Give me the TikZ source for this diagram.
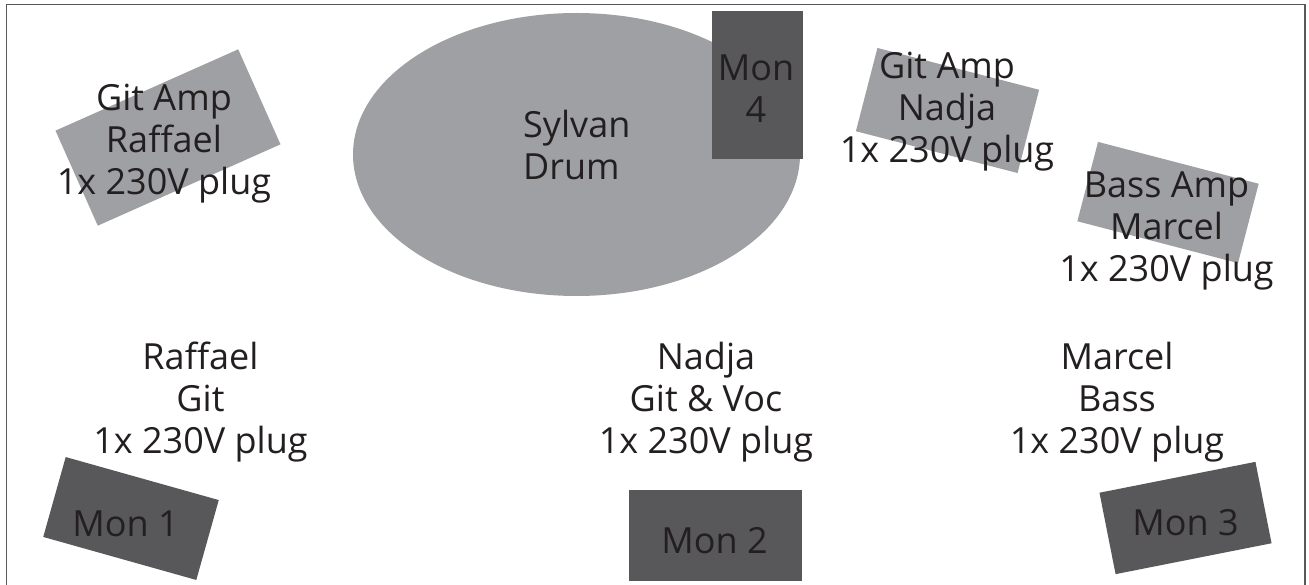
\documentclass[tikz,border=0pt]{standalone}
\usepackage{fontspec}
\setmainfont{Open Sans}
\usetikzlibrary{shapes.geometric}
\definecolor{light}{HTML}{9FA0A3}
\definecolor{dark}{HTML}{58585A}
\definecolor{ink}{HTML}{231F20}
\definecolor{frame}{HTML}{58595B}
\tikzset{
  txt/.style={font=\fontsize{36}{42}\selectfont, text=ink, align=center, inner sep=0pt, anchor=base},
  amp/.style={rectangle, fill=light, inner sep=0pt},
  mon/.style={rectangle, fill=dark, inner sep=0pt},
}
\begin{document}
\begin{tikzpicture}[x=1pt,y=-1pt]
\useasboundingbox (0,0) rectangle (1309,585);
\draw[frame, line width=1.6pt] (6.5,590) -- (6.5,4.5) -- (1305,4.5) -- (1305,590);
% drum
\node[ellipse, fill=light, minimum width=447pt, minimum height=283pt, inner sep=0pt] (drum) at (576.5,154.5) {};
\node[txt, align=left, anchor=base west] (drumtxt) at (523,180) {Sylvan\\Drum};
\node[mon, minimum width=91pt, minimum height=148pt] (mon4) at (757.5,85) {};
\node[txt] (mon4txt) at (756,123) {Mon\\4};
% amps
\node[amp, minimum width=200pt, minimum height=104pt, rotate=24] (ampR) at (168,137.5) {};
\node[txt] (ampRtxt) at (164,195) {Git Amp\\Raffael\\1x 230V plug};
\node[amp, minimum width=167pt, minimum height=86pt, rotate=-14.5] (ampN) at (947.5,110.5) {};
\node[txt] (ampNtxt) at (947,163) {Git Amp\\Nadja\\1x 230V plug};
\node[amp, minimum width=166pt, minimum height=82pt, rotate=-14.6] (ampM) at (1168,202.5) {};
\node[txt] (ampMtxt) at (1166.5,282) {Bass Amp\\Marcel\\1x 230V plug};
% players
\node[txt] (raffael) at (200.5,453) {Raffael\\Git\\1x 230V plug};
\node[txt] (nadja) at (706,453) {Nadja\\Git \& Voc\\1x 230V plug};
\node[txt] (marcel) at (1117,453) {Marcel\\Bass\\1x 230V plug};
% monitors
\node[mon, minimum width=159pt, minimum height=83pt, rotate=-15.7] (mon1) at (131,518.5) {};
\node[txt] (mon1txt) at (125.5,536) {Mon 1};
\node[mon, minimum width=173pt, minimum height=91pt] (mon2) at (715.5,535.5) {};
\node[txt] (mon2txt) at (714.5,553) {Mon 2};
\node[mon, minimum width=159pt, minimum height=83pt, rotate=11.2] (mon3) at (1185.5,518) {};
\node[txt] (mon3txt) at (1185.5,535) {Mon 3};
\end{tikzpicture}
\end{document}
